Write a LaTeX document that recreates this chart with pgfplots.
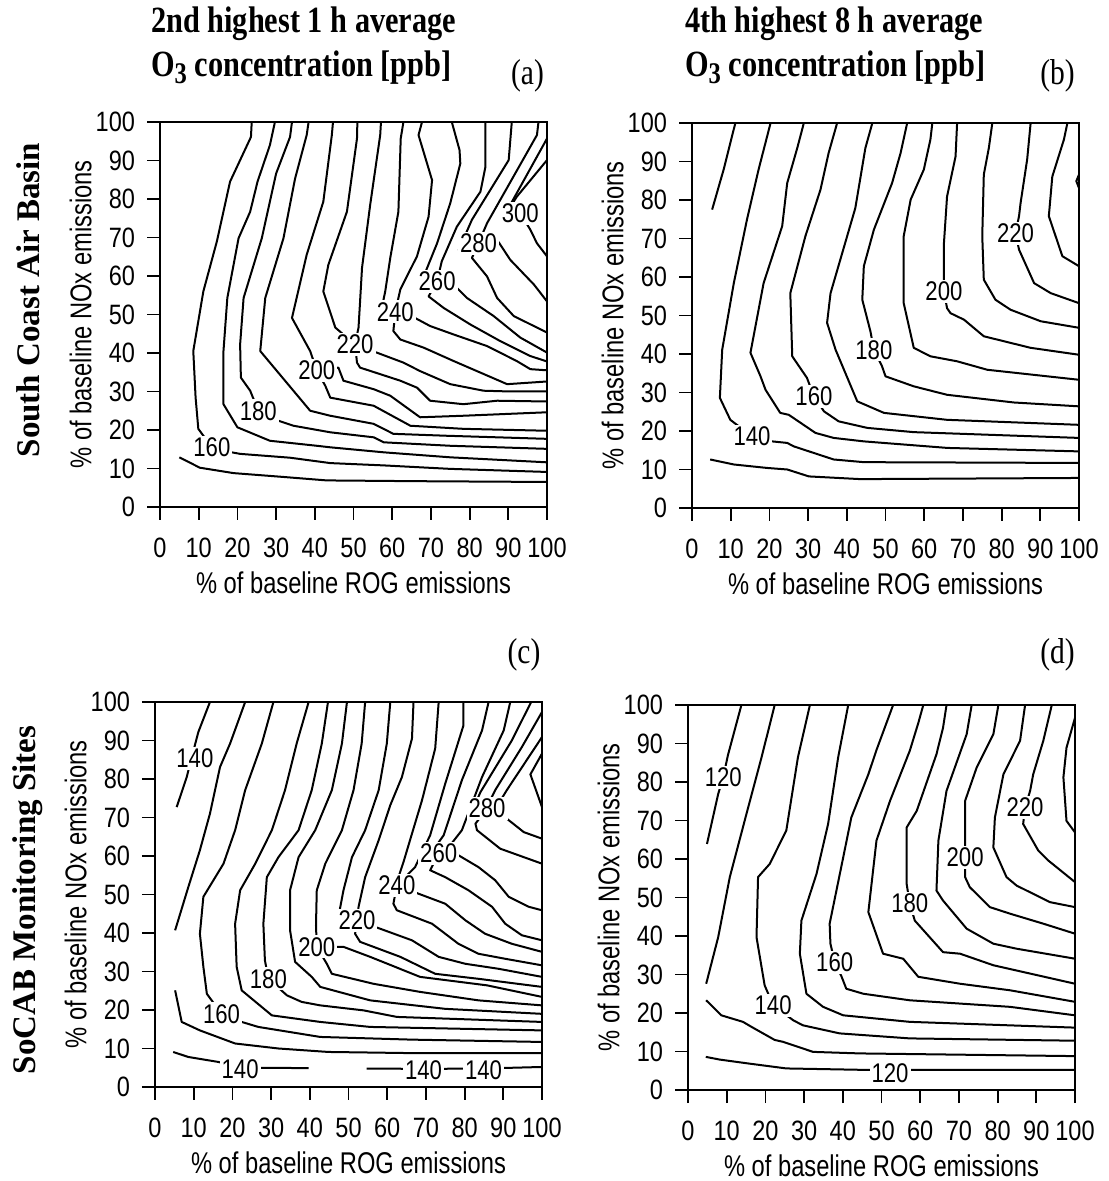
\documentclass[border=0pt]{standalone}
\usepackage{fontspec}
\setmainfont{Liberation Serif}
\newfontfamily\condsans[FakeStretch=0.82]{Liberation Sans}
\newfontfamily\ticksans[FakeStretch=0.84]{Liberation Sans}
\newfontfamily\labsans[FakeStretch=0.79]{Liberation Sans}
\newfontfamily\titlefont[FakeStretch=0.82]{Liberation Serif}
\usepackage{pgfplots}
\pgfplotsset{compat=1.18}
\pgfplotsset{
  cplot/.style={
    width=193.5pt, height=192.5pt, scale only axis,
    xmin=0, xmax=100, ymin=0, ymax=100,
    xtick={0,10,...,100}, ytick={0,10,...,100},
    tick align=outside, major tick length=6.5pt, tick pos=left,
    axis line style={line width=0.9pt},
    every tick/.style={black, line width=0.9pt},
    tick label style={font=\ticksans\fontsize{14}{14}\selectfont},
    xticklabel style={yshift=-5.5pt},
    yticklabel style={xshift=-2.5pt},
    /pgf/number format/assume math mode=true,
    xlabel={\% of baseline ROG emissions},
    ylabel={\% of baseline NOx emissions},
    label style={font=\labsans\fontsize{15}{15}\selectfont},
    xlabel style={at={(axis description cs:0.5,-0.197)}, anchor=center},
    ylabel style={at={(axis description cs:-0.205,0.5)}, anchor=center},
    cycle list={{black,solid,mark=none}},
    every axis plot post/.append style={black, solid, line width=1pt, mark=none, line join=round},
    no markers,
  },
}
\tikzset{clab/.style={fill=white, inner sep=1pt, font=\condsans\fontsize{13.5}{14}\selectfont}}
\begin{document}
\begin{tikzpicture}
\useasboundingbox (0,0) rectangle (554pt,590.5pt);
% ---------------- titles ----------------
\node[anchor=base west, font=\titlefont\bfseries\fontsize{18.5}{20}\selectfont] at (72pt,574pt) {2nd highest 1 h average};
\node[anchor=base west, font=\titlefont\bfseries\fontsize{18.5}{20}\selectfont] at (72pt,552pt) {O{\fontsize{15}{15}\selectfont\raisebox{-0.5ex}{3}} concentration [ppb]};
\node[anchor=base, font=\titlefont\fontsize{18}{18}\selectfont] at (263.75pt,548pt) {(a)};
\node[anchor=base west, font=\titlefont\bfseries\fontsize{18.5}{20}\selectfont] at (339pt,574pt) {4th highest 8 h average};
\node[anchor=base west, font=\titlefont\bfseries\fontsize{18.5}{20}\selectfont] at (339pt,552pt) {O{\fontsize{15}{15}\selectfont\raisebox{-0.5ex}{3}} concentration [ppb]};
\node[anchor=base, font=\titlefont\fontsize{18}{18}\selectfont] at (528.75pt,548pt) {(b)};
\node[anchor=center, font=\titlefont\fontsize{18}{18}\selectfont] at (262pt,263pt) {(c)};
\node[anchor=center, font=\titlefont\fontsize{18}{18}\selectfont] at (528.75pt,263pt) {(d)};
\node[rotate=90, anchor=center, font=\rmfamily\bfseries\fontsize{16.5}{17}\selectfont] at (14pt,440.5pt) {South Coast Air Basin};
\node[rotate=90, anchor=center, font=\rmfamily\bfseries\fontsize{16.5}{17}\selectfont] at (14pt,140.5pt) {SoCAB Monitoring Sites};

% ---------------- panel (a) ----------------
\begin{axis}[cplot, anchor=south west, at={(80pt,337pt)}]
\addplot coordinates {(5,12.9) (10.3,10.2) (19,8.8) (31.9,7.8) (43.1,6.9) (66.4,6.7) (100,6.5)};
\addplot coordinates {(23.7,100) (23.5,96.1) (18.1,84.5) (14.7,69) (11.2,56) (8.6,40.5) (9.2,28.4) (9.9,20.3) (13.4,15.5) (18.5,14.2) (20.7,13.8) (33.6,12.8) (44,11.4) (57.8,10.8) (75,9.9) (100,9.1)};
\addplot coordinates {(29.7,100) (28.4,94) (25.2,84.5) (23.3,76.7) (20.3,69.8) (17.4,54.3) (16.4,40.5) (16.4,26.7) (20,20.7) (28.4,17.2) (40.5,15.9) (44,15.5) (57.8,14.2) (75,12.9) (100,11.6)};
\addplot coordinates {(34.1,100) (33.6,96.1) (30,86.6) (26.3,69.8) (21.6,54.3) (20.7,42.2) (20.9,33.6) (23.3,30.2) (25.4,25) (30.6,22.4) (34.5,21.1) (44,19.4) (55.2,18.1) (57.8,16.8) (75,15.9) (100,15.1)};
\addplot coordinates {(38.4,100) (37.9,96.6) (34.9,85.3) (31.9,69.8) (27.2,54.3) (25.9,40.5) (38.8,25) (44,23.7) (55.2,21.6) (60.3,19) (74.1,18.5) (100,17.7)};
\addplot coordinates {(44.7,100) (44.4,96.6) (42.2,79.3) (37.9,65.5) (34.1,49.1) (38.8,40.5) (40.5,35.5) (46.1,36.2) (47.4,32.8) (55.2,30.6) (59.5,28.9) (67.2,23.3) (78.4,23.7) (100,24.6)};
\addplot coordinates {(40.5,35.5) (42.7,31.5) (44,28.4) (55.2,26.3) (64.7,21.1) (78.4,20.3) (100,19.8)};
\addplot coordinates {(51,100) (50.9,95.7) (48.3,76.7) (43.5,62.9) (42.2,56) (45.3,46.6) (50.4,42.2)};
\addplot coordinates {(57.1,100) (56.9,96.6) (54.3,78.4) (52.2,62.1) (51.7,53.4) (51.3,46.6) (50.4,42.2)};
\addplot coordinates {(50.4,42.2) (56,40.1) (62.9,37.5) (67.2,35.3) (75,31.9) (83.6,30.2) (90.5,30) (100,30)};
\addplot coordinates {(50.4,42.2) (50.9,37.5) (51.7,36.2) (62.1,32.8) (66.4,31) (69.8,27.6) (78.4,26.7) (87.1,27.6) (100,27.4)};
\addplot coordinates {(62.9,100) (62.2,95.7) (61.6,76.7) (59.5,64.7) (58.2,56) (57.3,51.7) (60.8,50.7)};
\addplot coordinates {(67.7,100) (66.8,96.6) (70.3,84.9) (69.4,75.4) (66.4,65.1) (62.1,56.5) (60.8,50.7)};
\addplot coordinates {(60.8,50.7) (65.9,49.1) (69.8,47) (75.9,44.8) (84.5,41.8) (92.2,37.9) (95.7,35.8) (100,35.5)};
\addplot coordinates {(60.8,50.7) (60.3,45.7) (62.1,43.5) (68.1,41.4) (75.9,37.9) (82.8,34.9) (89.7,31.9) (100,32.6)};
\addplot coordinates {(75.4,100) (77.4,92.7) (77.6,89.2) (75,78.9) (71.6,68.5) (68.5,60.8) (71.6,58.6)};
\addplot coordinates {(84.1,100) (84.1,88.4) (82.8,81.9) (76.7,72.8) (72.8,63.8) (71.6,58.6)};
\addplot coordinates {(71.6,58.6) (76.7,56.9) (79.3,54.3) (86.2,49.6) (93.1,44) (100,40.1)};
\addplot coordinates {(71.6,58.6) (69.4,54.7) (73.3,51.7) (80.2,47.4) (87.9,43.1) (95.7,39.2) (100,37.8)};
\addplot coordinates {(90.9,100) (90.1,90.1) (80.6,74.6) (77.2,66.8) (82.3,68.5)};
\addplot coordinates {(97.8,100) (97.4,96.6) (84.5,73.7) (82.3,68.5)};
\addplot coordinates {(82.3,68.5) (87.5,68.8) (90.5,64.2) (96.6,57.8) (100,53.4)};
\addplot coordinates {(82.3,68.5) (80.6,64.7) (84.5,59.9) (87.1,54.3) (91.4,49.6) (100,45.3)};
\addplot coordinates {(100,95.7) (88.2,74.3)};
\addplot coordinates {(100,90.1) (92.2,80.6) (88.4,74.6) (93.1,76.3)};
\addplot coordinates {(93.1,76.3) (95.7,72) (97.4,68.5) (100,65.1)};
\coordinate (la1) at (axis cs:13.4,15.5);
\coordinate (la2) at (axis cs:25.4,25);
\coordinate (la3) at (axis cs:40.5,35.5);
\coordinate (la4) at (axis cs:50.4,42.2);
\coordinate (la5) at (axis cs:60.8,50.7);
\coordinate (la6) at (axis cs:71.6,58.6);
\coordinate (la7) at (axis cs:82.3,68.5);
\coordinate (la8) at (axis cs:93.1,76.3);
\end{axis}
\node[clab] at (la1) {160};
\node[clab] at (la2) {180};
\node[clab] at (la3) {200};
\node[clab] at (la4) {220};
\node[clab] at (la5) {240};
\node[clab] at (la6) {260};
\node[clab] at (la7) {280};
\node[clab] at (la8) {300};

% ---------------- panel (b) ----------------
\begin{axis}[cplot, anchor=south west, at={(346pt,336.5pt)}]
\addplot coordinates {(11.2,100) (8.2,88) (5.2,77.5)};
\addplot coordinates {(4.7,12.6) (10.8,11.3) (19.4,10.4) (24.6,10) (30.2,8.2) (43.5,7.5) (100,7.8)};
\addplot coordinates {(20.3,100) (17.2,87.9) (14.2,74.9) (10.8,58.4) (7.8,41.1) (7.2,28.6) (9.9,22.9) (15.5,18.6) (20.7,17.3) (24.6,16.9) (26.3,16) (36.6,12.6) (44.4,11.9) (100,11.7)};
\addplot coordinates {(28.9,100) (27.2,93.5) (24.6,84.4) (23.3,73.2) (18.5,58.4) (15.1,40.3) (17.7,34.2) (19,30.7) (22.8,24.7) (25,24.2) (31.9,19.5) (36.6,18.2) (44.4,17.3) (66,15.6) (100,14.7)};
\addplot coordinates {(37.5,100) (35.3,92.2) (33.2,82.7) (29.3,70.6) (25.4,55.8) (25.9,39.4) (29.7,33.8) (31.5,29) (34.1,25.1) (37.9,22.5) (45.3,20.8) (57.3,19.7) (100,18.2)};
\addplot coordinates {(46.6,100) (44.8,93.5) (42.2,77.9) (35.8,55.8) (34.9,48.1) (37.1,41.1) (42.7,27.7) (49.6,24.7) (65.9,22.9) (100,21.6)};
\addplot coordinates {(55.6,100) (53.9,92.2) (51.7,84.4) (47,72.3) (44.4,62.8) (44,54.1) (46.1,45.9) (47,41.1) (49.1,36.8) (50,34.2) (57.3,31.6) (65.9,29.4) (83.2,27.4) (100,26.4)};
\addplot coordinates {(62.1,100) (61.6,95.7) (59.9,87.9) (56.5,80.1) (54.7,70.6) (54.7,53.2) (57.3,41.6) (61.6,39.4) (68.5,38.1) (76.3,35.9) (91.8,34.2) (100,33.3)};
\addplot coordinates {(68.5,100) (68.1,91.3) (65.9,80.9) (65.1,68.8) (65.1,61) (65.1,56.3) (65.9,51.9) (66.8,50.6) (70.3,48.9) (75.4,44.6) (87.5,41.6) (100,39.8)};
\addplot coordinates {(77.6,100) (76.7,93.5) (75.4,86.6) (75,70.6) (75.4,59.3) (78.4,54.1) (82.3,51.5) (90.1,48.5) (100,46.8)};
\addplot coordinates {(87.5,100) (86.6,90.5) (84.9,79.2) (84.5,75.8) (83.6,71.4) (84.5,67.1) (88.4,58.4) (92.7,55.8) (100,53.2)};
\addplot coordinates {(97,100) (96.1,95.7) (93.1,86.1) (92.2,75.8) (95.7,65.4) (100,62.8)};
\addplot coordinates {(100,86.6) (99.3,84.9) (100,83.1)};
\coordinate (lb1) at (axis cs:15.5,18.6);
\coordinate (lb2) at (axis cs:31.5,29);
\coordinate (lb3) at (axis cs:47,41.1);
\coordinate (lb4) at (axis cs:65.1,56.3);
\coordinate (lb5) at (axis cs:83.6,71.4);
\end{axis}
\node[clab] at (lb1) {140};
\node[clab] at (lb2) {160};
\node[clab] at (lb3) {180};
\node[clab] at (lb4) {200};
\node[clab] at (lb5) {220};

% ---------------- panel (c) ----------------
\begin{axis}[cplot, anchor=south west, at={(77.5pt,47pt)}]
\addplot coordinates {(14.2,100) (11.2,92.2) (9.5,85.7) (8.2,80.5) (5.6,72.7)};
\addplot coordinates {(23.3,100) (19.4,89.2) (16.8,83.1) (14.2,71) (11.6,61.5) (8.6,51.9) (5.2,40.7)};
\addplot coordinates {(5.2,25.1) (6.9,16.9) (11.6,14.7) (20.7,11.3) (31.9,10) (44.8,9.1) (66.4,8.8) (100,8.8)};
\addplot coordinates {(4.7,9.1) (8.6,7.8) (16.4,6.5) (22,5) (26.7,5) (39.7,4.9)};
\addplot coordinates {(54.7,4.8) (69.4,4.7) (84.9,4.8) (100,5.2)};
\addplot coordinates {(30.6,100) (27.6,89.2) (23.3,77.1) (20.7,66.7) (17.7,58) (12.5,49.4) (11.6,39.8) (12.5,31.2) (13.4,24.2) (17.2,19) (22.4,16.9) (26.7,15.6) (42.7,13) (66.4,12.3) (100,11.7)};
\addplot coordinates {(39.7,100) (36.6,89.2) (33.6,77.1) (30.2,66.7) (25.9,58) (22,51.1) (20.7,42.4) (21.1,31.2) (22.4,25.1) (30.2,18.6) (42.7,16.9) (55.6,15.6) (100,14.7)};
\addplot coordinates {(44.7,100) (43.1,89.2) (40.5,77.1) (37.1,66.7) (31.9,59.7) (28.9,54.5) (28,42.4) (28.4,32.9) (29.3,28.1) (34.1,23.8) (37.9,22.1) (42.7,21.2) (53.9,19.9) (62.5,18.2) (100,16.9)};
\addplot coordinates {(49.6,100) (48.3,89.2) (45.7,77.1) (41.4,66.7) (37.1,59.7) (34.9,51.1) (34.9,40.7) (36.2,32.5) (40.5,28.6) (42.7,26) (55.6,22.5) (75,20.3) (100,19)};
\addplot coordinates {(54.3,100) (53.4,89.2) (51.3,77.1) (48.3,66.7) (44,58) (41.8,51.1) (41.6,42) (41.8,36.4) (48.7,36.4) (55.6,33.8) (68.5,28.6) (85.8,26.4) (100,23.4)};
\addplot coordinates {(41.8,36.4) (44.4,32) (45.7,29.4) (56.5,26.8) (68.5,24.7) (83.6,22.5) (100,21.2)};
\addplot coordinates {(60.8,100) (59.9,89.2) (57.8,77.1) (54.3,66.7) (50.9,59.7) (48.7,51.1) (47.4,44.2) (52.2,43.3)};
\addplot coordinates {(66.8,100) (66.4,90.5) (63.8,80.5) (60.8,73.2) (57.8,64.1) (54.3,54.5) (52.6,46.8) (52.2,43.3)};
\addplot coordinates {(52.2,43.3) (58.2,41.1) (66.4,38.1) (73.3,33.8) (80.2,32) (88.8,30.7) (100,28.6)};
\addplot coordinates {(52.2,43.3) (51.7,39.8) (53,37.7) (63.4,33.8) (72.4,29.4) (83.6,28.1) (100,26)};
\addplot coordinates {(73.3,100) (72.4,87.9) (69,74.5) (66.4,65.8) (64.2,58.4) (62.9,54.5) (62.5,52.4)};
\addplot coordinates {(79.7,100) (79.7,93.9) (75,78.8) (71.1,65.4) (67.2,57.1) (62.5,52.4)};
\addplot coordinates {(62.5,52.4) (68.1,50.2) (75,47.6) (80.2,43.3) (85.3,39.8) (92.2,37.2) (100,35.1)};
\addplot coordinates {(62.5,52.4) (61.6,47.6) (62.5,45.9) (71.6,42.4) (78.4,37.2) (83.6,34.6) (90.5,33.3) (100,31.6)};
\addplot coordinates {(86.2,100) (84.5,92.6) (79.3,79.7) (74.6,65.4) (72.4,62.3) (73.3,60.6)};
\addplot coordinates {(91.8,100) (90.1,92.6) (84.5,80.5) (79.3,66.7) (75.9,62.3) (73.3,60.6)};
\addplot coordinates {(73.3,60.6) (78.4,60.2) (83.6,57.1) (87.9,53.7) (91.4,49.4) (96.6,46.8) (100,45.9)};
\addplot coordinates {(73.3,60.6) (71.1,56.3) (75,54.5) (81,51.1) (87.1,46.8) (90.5,42.4) (94.8,39.4) (100,38.1)};
\addplot coordinates {(97.2,100) (92.2,90) (84.1,76.6) (82.8,73.6) (85.8,72.3)};
\addplot coordinates {(100,97.4) (94.8,88.3) (87.9,77.1) (86.2,73.6) (85.8,72.3)};
\addplot coordinates {(100,90.9) (90.9,77.1) (88.8,73.6)};
\addplot coordinates {(85.8,72.3) (90.9,69.7) (95.3,66.2) (100,64.5)};
\addplot coordinates {(85.8,72.3) (82.8,68.4) (83.2,66.7) (89.2,61.9) (100,58)};
\addplot coordinates {(100,86.6) (97,81.2) (100,72.7)};
\coordinate (lc1) at (axis cs:10.3,85.3);
\coordinate (lc2) at (axis cs:17.2,19);
\coordinate (lc3) at (axis cs:29.3,28.1);
\coordinate (lc4) at (axis cs:41.8,36.4);
\coordinate (lc5) at (axis cs:52.2,43.3);
\coordinate (lc6) at (axis cs:62.5,52.4);
\coordinate (lc7) at (axis cs:73.3,60.6);
\coordinate (lc8) at (axis cs:85.8,72.3);
\coordinate (lc9) at (axis cs:22,4.6);
\coordinate (lc10) at (axis cs:69.4,4.4);
\coordinate (lc11) at (axis cs:84.9,4.4);
\end{axis}
\node[clab] at (lc1) {140};
\node[clab] at (lc2) {160};
\node[clab] at (lc3) {180};
\node[clab] at (lc4) {200};
\node[clab] at (lc5) {220};
\node[clab] at (lc6) {240};
\node[clab] at (lc7) {260};
\node[clab] at (lc8) {280};
\node[clab] at (lc9) {140};
\node[clab] at (lc10) {140};
\node[clab] at (lc11) {140};

% ---------------- panel (d) ----------------
\begin{axis}[cplot, anchor=south west, at={(344pt,45.5pt)}]
\addplot coordinates {(13.8,100) (10.3,86.9) (9.1,81.2) (7.8,76.9) (4.9,63.9)};
\addplot coordinates {(22.4,100) (19,86.4) (15.1,71.7) (10.8,55.3) (7.8,39.7) (4.7,27.6)};
\addplot coordinates {(4.7,23.3) (8.6,19.4) (14.2,17.7) (16.4,16.4) (22.4,13) (24.6,12.5) (32.3,9.9) (44.4,9.5) (100,8.8)};
\addplot coordinates {(4.6,8.6) (8.2,7.9) (15.5,6.9) (25.4,5.6) (47,5.2) (52.2,5.2) (57.3,5.2) (100,5.2)};
\addplot coordinates {(31.5,100) (28.4,86.4) (25.4,67.4) (21.1,58.7) (18.1,55.3) (17.7,39.7) (19.8,27.2) (22,22) (27.2,18.1) (29.7,16.8) (39.2,14.7) (57.3,13.4) (100,12.8)};
\addplot coordinates {(41.4,100) (38.8,86.4) (36.2,69.1) (33.2,56.1) (29.3,44) (28.9,35.4) (30.6,25) (34.9,21.6) (40.1,19.4) (57.3,17.7) (100,16.2)};
\addplot coordinates {(53,100) (48.7,88.3) (46.6,82) (42.2,70.8) (40.1,60.4) (36.6,43.2) (36.8,38) (37.9,33.2) (39.7,29.4) (40.9,26.3) (45.3,25) (57.3,23.3) (83.2,21.6) (100,19.4)};
\addplot coordinates {(60.8,100) (59.5,95.3) (57.3,88.1) (52.2,75.1) (48.7,64.8) (46.6,46.2) (50.4,35.4) (55.6,34.1) (59.5,29.4) (70.3,27.6) (83.2,25.9) (100,22.9)};
\addplot coordinates {(66.8,100) (65.9,94.1) (64.2,87.2) (59.1,72.5) (56.5,68.2) (56.5,53.5) (57.3,48.4) (58.6,44) (65.9,35.8) (70.3,35.4) (78.9,32.4) (100,27.6)};
\addplot coordinates {(73.3,100) (72,92.4) (66.8,77.7) (64.7,64.8) (64.2,51.8) (65.9,49.2) (72,41.9) (78.9,38) (84.9,36.7) (100,34.1)};
\addplot coordinates {(80.2,100) (78.9,92.4) (74.6,83.8) (71.6,75.1) (71.6,64.8) (71.6,60.4) (71.6,55.3) (72.8,52.7) (78,47.5) (83.2,45.8) (91.8,43.2) (100,40.6)};
\addplot coordinates {(87.1,100) (85.8,90.7) (81.5,82) (79.3,70.8) (78.9,63) (82.3,55.3) (84.9,53.1) (93.5,48.8) (100,47.5)};
\addplot coordinates {(94,100) (91.8,90.7) (89.2,82) (88.4,77.7) (87.1,73.4) (86.6,69.1) (90.5,62.2) (93.1,59.6) (100,54)};
\addplot coordinates {(100,96.7) (97.8,88.9) (97,81.2) (97.8,69.9) (100,66.9)};
\coordinate (ld1) at (axis cs:9.1,81.2);
\coordinate (ld2) at (axis cs:22,22);
\coordinate (ld3) at (axis cs:37.9,33.2);
\coordinate (ld4) at (axis cs:57.3,48.4);
\coordinate (ld5) at (axis cs:71.6,60.4);
\coordinate (ld6) at (axis cs:87.1,73.4);
\coordinate (ld7) at (axis cs:52.2,4.4);
\end{axis}
\node[clab] at (ld1) {120};
\node[clab] at (ld2) {140};
\node[clab] at (ld3) {160};
\node[clab] at (ld4) {180};
\node[clab] at (ld5) {200};
\node[clab] at (ld6) {220};
\node[clab] at (ld7) {120};
\end{tikzpicture}
\end{document}
